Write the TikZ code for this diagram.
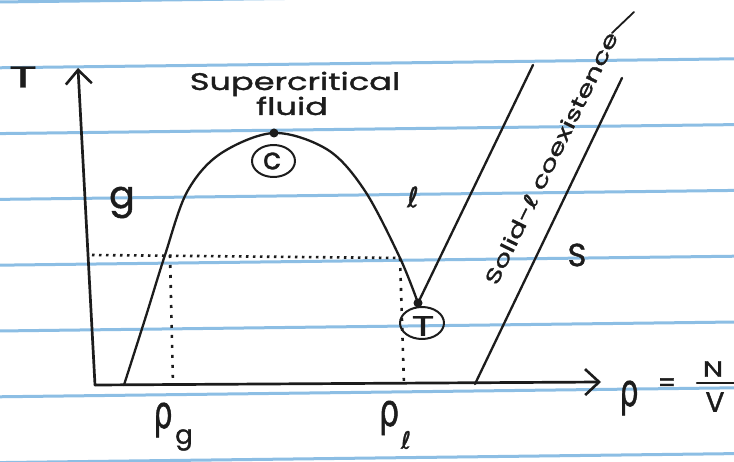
\documentclass[tikz,border=0pt]{standalone}
\usepackage{fontspec}
\setmainfont{Poppins}[FakeBold=1.2]
\newfontfamily\dv{DejaVu Sans}[FakeBold=1.2]
\usetikzlibrary{arrows.meta}
\definecolor{ink}{RGB}{28,28,28}
\definecolor{rule}{RGB}{140,190,228}
\begin{document}
\begin{tikzpicture}[x=1pt,y=-1pt,
  pen/.style={draw=ink, line width=2.3pt, line cap=round, line join=round},
  axis/.style={pen, line width=2.7pt},
  hdots/.style={draw=ink, line width=2.6pt, dash pattern=on 2.5pt off 4.5pt},
  vdots/.style={draw=ink, line width=2.6pt, dash pattern=on 3pt off 7pt},
  ruled/.style={draw=rule, line width=3pt},
  lbl/.style={text=ink, inner sep=0pt, outer sep=0pt},
  barb/.style={-{Straight Barb[length=14pt,width=26pt,line width=2.6pt]}}
]
\useasboundingbox (0,0) rectangle (734,462);
\fill[white] (0,0) rectangle (734,462);
% ruled paper
\foreach \k in {0,...,7}{
  \draw[ruled] (-2,{2+65.8*\k}) -- (736,{2+65.8*\k-9});
}
% key points
\coordinate (O) at (95,385);
\coordinate (Ttop) at (78,68);
\coordinate (Xend) at (601,382);
\coordinate (C) at (274,133);
\coordinate (Tp) at (418,303);
\coordinate (Dl) at (92,255);
\coordinate (Dr) at (400,258);
\coordinate (Dg) at (170,255);
\coordinate (Rg) at (173,385);
\coordinate (Rl) at (404,385);
\coordinate (SLtop) at (533,65);
\coordinate (SSbot) at (475,384);
\coordinate (SStop) at (622,78);
% axes
\draw[axis,barb] (O) -- (Ttop);
\draw[axis,barb] (O) -- (Xend);
% coexistence dome
\draw[pen] plot[smooth, tension=0.55] coordinates {(124,385) (146,316) (165,255) (187,192) (220,154) (C) (328,150) (365,191) (Dr) (Tp)};
% solid-liquid lines
\draw[pen] (Tp) -- (SLtop);
\draw[pen] (SSbot) -- (SStop);
% dotted lines
\draw[hdots] (Dl) -- (Dr);
\draw[vdots] (Dg) -- (Rg);
\draw[vdots] (Dr) -- (Rl);
% points
\fill[ink] (C) circle (4.5);
\fill[ink] (Tp) circle (4.5);
% labels
\node[lbl, font=\fontsize{30}{30}\selectfont] (Tlab) at (23,77) {\scalebox{1.7}[1]{T}};
\node[lbl, anchor=base, font=\fontsize{24}{24}\selectfont] (sc) at (295,90) {\scalebox{1.4}[1]{Supercritical}};
\node[lbl, anchor=base, font=\fontsize{24}{24}\selectfont] (fl) at (292,115) {\scalebox{1.4}[1]{fluid}};
\node[lbl, font=\fontsize{30}{30}\selectfont] (cl) at (272,161) {c};
\draw[pen, line width=2pt] (cl.center) ++(1.5,0) ellipse [x radius=21.5, y radius=16];
\node[lbl, font=\fontsize{28}{28}\selectfont] (tl) at (423,326) {\scalebox{1.5}[1]{T}};
\draw[pen, line width=2pt] (tl.center) ++(-1,-3) ellipse [x radius=22, y radius=16];
\node[lbl, anchor=base, font=\fontsize{38}{38}\selectfont] (gl) at (122,208) {g};
\node[lbl, font=\dv\fontsize{28}{28}\selectfont] (ll) at (413,197) {ℓ};
\node[lbl, font=\fontsize{32}{32}\selectfont] (sl) at (577,255) {S};
\node[lbl, rotate=64, font=\fontsize{20}{20}\selectfont] (coex) at (551,158) {\scalebox{1.45}[1]{Solid-{\dv ℓ} coexistence}};
\coordinate (tailA) at (612,33);
\coordinate (tailB) at (634,12);
\draw[pen, line width=1.8pt] (tailA) -- (tailB);
% density labels
\node[lbl, font=\dv\fontsize{30}{30}\selectfont] (rg) at (163,420) {\scalebox{1}[1.5]{ρ}};
\node[lbl, font=\fontsize{26}{26}\selectfont] (rgs) at (184,440) {g};
\node[lbl, font=\dv\fontsize{32}{32}\selectfont] (rl) at (389,418) {\scalebox{1}[1.4]{ρ}};
\node[lbl, font=\dv\fontsize{24}{24}\selectfont] (rls) at (406,440) {ℓ};
\node[lbl, font=\dv\fontsize{30}{30}\selectfont] (rho) at (629,398) {\scalebox{1}[1.5]{ρ}};
\node[lbl, font=\fontsize{26}{26}\selectfont] (eq) at (667,385) {=};
\node[lbl, font=\fontsize{22}{22}\selectfont] (num) at (713,369) {\scalebox{1.3}[1]{N}};
\node[lbl, font=\fontsize{28}{28}\selectfont] (den) at (715,402) {V};
\coordinate (barL) at (697,383);
\coordinate (barR) at (736,383);
\draw[pen] (barL) -- (barR);
\end{tikzpicture}
\end{document}
